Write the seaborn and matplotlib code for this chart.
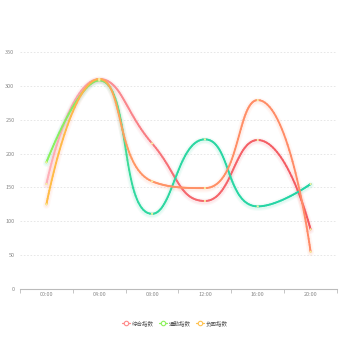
import numpy as np
import pandas as pd
import matplotlib
matplotlib.use("Agg")
import matplotlib.pyplot as plt
import seaborn as sns
from matplotlib.collections import LineCollection
from matplotlib.lines import Line2D
from matplotlib.colors import to_rgb

categories = ["00:00", "04:00", "08:00", "12:00", "16:00", "20:00"]
series_names = ["综合指数", "通勤指数", "负面指数"]
composite = [155, 310, 215, 130, 220, 88]
commute = [187, 308, 111, 221, 122, 155]
negative = [125, 310, 159, 149, 279, 55]
y_ticks = [0, 50, 100, 150, 200, 250, 300, 350]

sns.set_theme(style="white")
plt.rcParams["font.family"] = ["Noto Sans CJK SC", "DejaVu Sans"]

fig = plt.figure(figsize=(3.5, 3.5), dpi=100)
ax = fig.add_axes([20 / 350, 1 - 289 / 350, 317 / 350, 237 / 350])
ax.set_xlim(-0.5, 5.5)
ax.set_ylim(0, 350)

XPX = 317 / 6.0
YPX = 237 / 350.0


def smooth_curve(vals, smooth=0.5, n=40):
    pts = [(i * XPX, v * YPX) for i, v in enumerate(vals)]
    m = len(pts)
    cp_in = [None] * m
    cp_out = [None] * m
    for i in range(m):
        x, y = pts[i]
        if i == 0 or i == m - 1:
            cp_in[i] = (x, y)
            cp_out[i] = (x, y)
            continue
        px, py = pts[i - 1]
        nx, ny = pts[i + 1]
        vx, vy = nx - px, ny - py
        lp = np.hypot(x - px, y - py)
        ln = np.hypot(nx - x, ny - y)
        r = ln / (ln + lp)
        ncx = x + vx * smooth * r
        ncy = y + vy * smooth * r
        ncx = max(min(ncx, max(nx, x)), min(nx, x))
        ncy = max(min(ncy, max(ny, y)), min(ny, y))
        vx, vy = ncx - x, ncy - y
        c1x = x - vx * lp / ln
        c1y = y - vy * lp / ln
        c1x = max(min(c1x, max(px, x)), min(px, x))
        c1y = max(min(c1y, max(py, y)), min(py, y))
        vx, vy = x - c1x, y - c1y
        ncx = x + vx * ln / lp
        ncy = y + vy * ln / lp
        cp_in[i] = (c1x, c1y)
        cp_out[i] = (ncx, ncy)
    xs, ys = [], []
    t = np.linspace(0, 1, n)
    for i in range(m - 1):
        p0 = np.array(pts[i]); p3 = np.array(pts[i + 1])
        p1 = np.array(cp_out[i]); p2 = np.array(cp_in[i + 1])
        b = ((1 - t) ** 3)[:, None] * p0 + (3 * (1 - t) ** 2 * t)[:, None] * p1 \
            + (3 * (1 - t) * t ** 2)[:, None] * p2 + (t ** 3)[:, None] * p3
        if i > 0:
            b = b[1:]
        xs.extend(b[:, 0] / XPX)
        ys.extend(b[:, 1] / YPX)
    return np.array(xs), np.array(ys)


def grad_colors(frac, stops):
    pos = [s[0] for s in stops]
    cols = np.array([to_rgb(s[1]) for s in stops])
    return np.stack([np.interp(frac, pos, cols[:, k]) for k in range(3)], axis=1)


styles = [
    (composite, [(0, "#ffb0b8"), (0.25, "#fb8e94"), (0.5, "#f56a70"), (1, "#f4585f")], "#ff8a8a"),
    (commute, [(0, "#8cf25c"), (0.2, "#7fea6e"), (0.33, "#2fd8a0"), (1, "#22d4a6")], "#8cf25c"),
    (negative, [(0, "#ffbd45"), (0.2, "#ffb04f"), (0.35, "#ff9466"), (1, "#ff8a66")], "#ffc24f"),
]

# gridlines
for yt in y_ticks[1:]:
    ax.axhline(yt, color="#e3e3e3", lw=0.6, ls=(0, (2, 2)), zorder=0)

for vals, stops, _ in styles:
    xs, ys = smooth_curve(vals)
    frac = xs / 5.0
    cols = grad_colors(frac, stops)
    df = pd.DataFrame({"x": xs, "y": ys - 1.5})
    mid = cols[len(cols) * 2 // 3]
    for w, a in [(5, 0.06), (3.2, 0.08)]:
        sns.lineplot(data=df, x="x", y="y", ax=ax, sort=False, color=mid,
                     lw=w, alpha=a, zorder=2, solid_capstyle="round")
    segs = np.stack([np.column_stack([xs[:-1], ys[:-1]]),
                     np.column_stack([xs[1:], ys[1:]])], axis=1)
    lc = LineCollection(segs, colors=cols[:-1], linewidths=1.35, zorder=3,
                        capstyle="round")
    ax.add_collection(lc)
    pdf = pd.DataFrame({"x": np.arange(len(vals)), "y": vals})
    sns.scatterplot(data=pdf, x="x", y="y", ax=ax, s=2.5, color="#f5f0a0",
                    edgecolor="none", zorder=4)

ax.set_xticks(range(len(categories)))
ax.set_xticklabels(categories)
ax.set_xticks(np.arange(-0.5, 6, 1), minor=True)
ax.set_yticks(y_ticks)
ax.set_xlabel("")
ax.set_ylabel("")
ax.tick_params(axis="x", which="major", length=0, labelsize=4, colors="#888888", pad=2.5)
ax.tick_params(axis="x", which="minor", length=3, width=0.6, color="#bbbbbb", direction="out")
ax.tick_params(axis="y", length=0, labelsize=4, colors="#888888", pad=4)
ax.xaxis.set_ticks_position("bottom")
for s in ["top", "right", "left"]:
    ax.spines[s].set_visible(False)
ax.spines["bottom"].set_color("#bbbbbb")
ax.spines["bottom"].set_linewidth(0.8)
ax.grid(False)

handles = [Line2D([0], [0], color=c, lw=0.9, marker="o", markersize=3.2,
                  markerfacecolor="white", markeredgecolor=c, markeredgewidth=0.8)
           for (_, _, c) in styles]
fig.legend(handles, series_names, loc="center", bbox_to_anchor=(0.5, 1 - 323 / 350),
           ncol=3, frameon=False, fontsize=4, handlelength=1.4, handletextpad=0.3,
           columnspacing=1.0, labelcolor="#555555")

fig.savefig("out.png", dpi=100)
